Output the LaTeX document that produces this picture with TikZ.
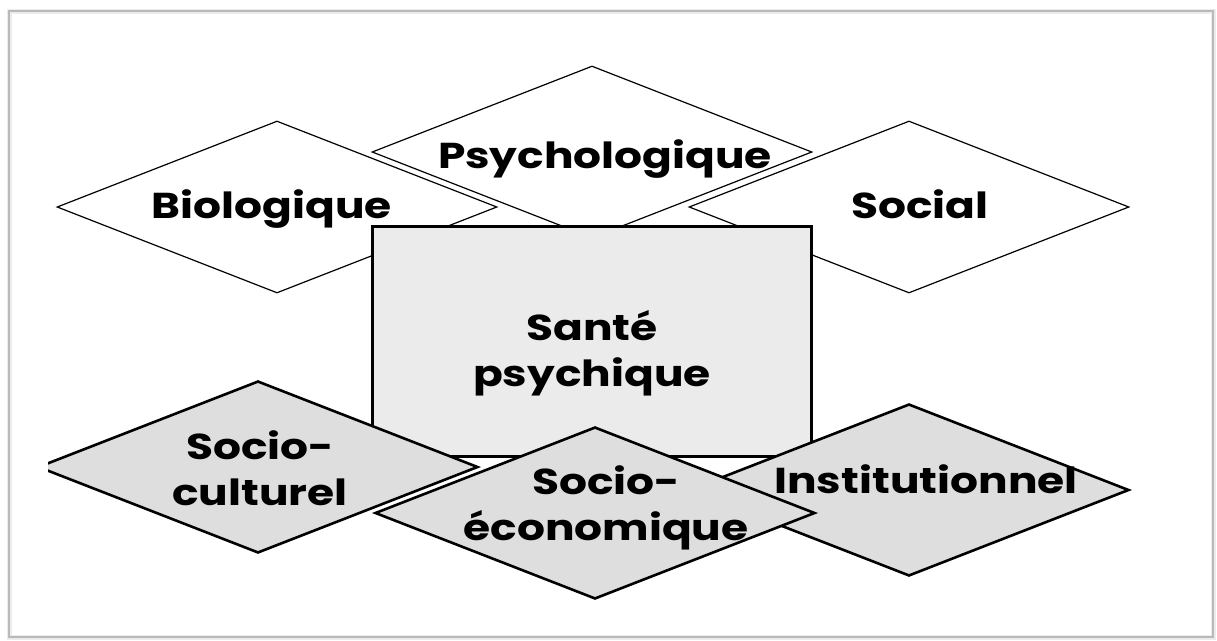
\documentclass[tikz,border=0pt]{standalone}
\usepackage{fontspec}
\setmainfont{Poppins}
\newfontfamily\gothique{Poppins}[FakeStretch=1.22]
\usetikzlibrary{shapes.geometric}

\definecolor{fondcarre}{gray}{0.92}
\definecolor{fondbas}{gray}{0.87}

\tikzset{
  losange/.style={diamond, draw=black, minimum width=440pt, minimum height=172pt, inner sep=0pt},
  haut/.style={losange, fill=white, line width=1.2pt},
  bas/.style={losange, fill=fondbas, line width=2.6pt},
  carre/.style={rectangle, draw=black, fill=fondcarre, line width=3pt, minimum width=439pt, minimum height=230pt},
  etiquette/.style={font=\gothique\bfseries\fontsize{36}{46}\selectfont, align=center, inner sep=0pt, anchor=base}
}

\begin{document}
\begin{tikzpicture}[x=1pt,y=-1pt]
\useasboundingbox (0,0) rectangle (1217,640);
\fill[white] (0,0) rectangle (1217,640);

% cadre
\draw[gray!15, line width=5pt] (9,11) rectangle (1213,637);
\draw[gray!55, line width=1.2pt] (9,11) rectangle (1213,637);

% facteurs du haut
\node[haut] (bio) at (277,207) {};
\node[etiquette] (bio-t) at (272,218) {Biologique};

\node[haut] (soc) at (909,207) {};
\node[etiquette] (soc-t) at (920,218) {Social};

\node[haut] (psy) at (592,152) {};
\node[etiquette] (psy-t) at (605,168) {Psychologique};

% centre
\node[carre] (sante) at (592,341) {};
\node[etiquette] (sante-t) at (592,386) {Santé\\psychique};

% facteurs du bas
\begin{scope}
\clip (48,0) rectangle (1217,640);
\node[bas] (socult) at (258,467) {};
\end{scope}
\node[etiquette] (socult-t) at (260,505) {Socio-\\culturel};

\node[bas] (inst) at (909,490) {};
\node[etiquette] (inst-t) at (926,493) {Institutionnel};

\node[bas] (soceco) at (595,513) {};
\node[etiquette] (soceco-t) at (606,540) {Socio-\\économique};
\end{tikzpicture}
\end{document}
